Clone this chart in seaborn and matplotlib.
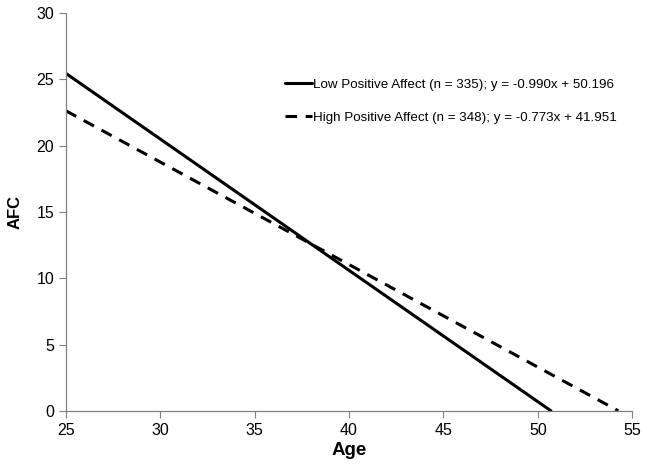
import matplotlib
matplotlib.use("Agg")
import matplotlib.pyplot as plt
import seaborn as sns
import pandas as pd

# Data (line endpoints)
low_age = [25.0, 50.70]
low_afc = [25.45, 0.0]
high_age = [25.0, 54.27]
high_afc = [22.63, 0.0]
low_label = "Low Positive Affect (n = 335); y = -0.990x + 50.196"
high_label = "High Positive Affect (n = 348); y = -0.773x + 41.951"
x_ticks = [25, 30, 35, 40, 45, 50, 55]
y_ticks = [0, 5, 10, 15, 20, 25, 30]

df = pd.concat([
    pd.DataFrame({"Age": low_age, "AFC": low_afc, "group": low_label}),
    pd.DataFrame({"Age": high_age, "AFC": high_afc, "group": high_label}),
])

sns.set_style("white")
plt.rcParams["font.family"] = ["Liberation Sans", "DejaVu Sans"]
for k in ["text.color", "axes.labelcolor", "xtick.color", "ytick.color"]:
    plt.rcParams[k] = "black"

fig = plt.figure(figsize=(6.47, 4.69), dpi=100)
ax = fig.add_axes([0.102, 0.124, 0.875, 0.848])

sns.lineplot(data=df, x="Age", y="AFC", hue="group", style="group",
             palette=["black", "black"], dashes=[(None, None), (3.8, 2.8)],
             linewidth=2.2, ax=ax, legend=True)

ax.set_xlim(25, 55)
ax.set_ylim(0, 30)
ax.set_xticks(x_ticks)
ax.set_yticks(y_ticks)
ax.tick_params(axis="both", labelsize=11.5, direction="out", length=5,
               width=0.8, left=True, bottom=True, labelcolor="black")
ax.tick_params(axis="both", color="#808080")
for s in ["top", "right"]:
    ax.spines[s].set_visible(False)
for s in ["left", "bottom"]:
    ax.spines[s].set_color("#808080")
    ax.spines[s].set_linewidth(0.9)
ax.set_xlabel("Age", fontsize=13.5, fontweight="bold", labelpad=3)
ax.set_ylabel("AFC", fontsize=12, fontweight="bold", labelpad=10)

leg = ax.legend(loc="center left", bbox_to_anchor=(0.366, 0.778), frameon=False,
                fontsize=9.6, handlelength=2.0, handletextpad=0.05,
                labelspacing=1.55)

fig.savefig("out.png", dpi=100)
